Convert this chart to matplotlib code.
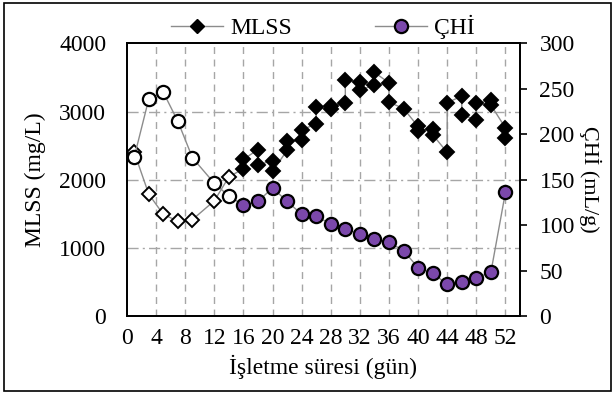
import matplotlib.pyplot as plt
from matplotlib.lines import Line2D
from matplotlib.patches import Rectangle

plt.rcParams['font.family'] = ['Liberation Serif', 'DejaVu Serif']

# MLSS (mg/L), in plotting order (two readings on most days)
mlss_gun = [1, 3, 5, 7, 9, 12, 14,
            16, 16, 18, 18, 20, 20, 22, 22, 24, 24, 26, 26, 28, 28,
            30, 30, 32, 32, 34, 34, 36, 36, 38, 40, 40, 42, 42,
            44, 44, 46, 46, 48, 48, 50, 50, 52, 52]
mlss = [2400, 1785, 1490, 1390, 1415, 1690, 2040,
        2162, 2299, 2441, 2215, 2280, 2120, 2431, 2570, 2578, 2735,
        2813, 3059, 3034, 3078, 3132, 3460, 3435, 3313, 3387, 3573,
        3421, 3137, 3044, 2780, 2720, 2750, 2660,
        2400, 3130, 3225, 2950, 2880, 3120, 3166, 3095, 2760, 2615]
mlss_open = 7  # first readings drawn as open markers

# ÇHİ (mL/g)
chi_gun = [1, 3, 5, 7, 9, 12, 14, 16, 18, 20, 22, 24, 26, 28, 30,
           32, 34, 36, 38, 40, 42, 44, 46, 48, 50, 52]
chi = [175, 239, 246, 214, 174, 146, 132, 122, 126, 141, 126, 112, 110,
       101, 96, 90, 85, 81, 72, 53, 47, 35, 37, 42, 48, 136]
chi_open = 7

purple = '#7B48AB'
line_gray = '#8C8C8C'
grid_gray = '#A6A6A6'
fs = 17

fig = plt.figure(figsize=(6.15, 3.94), dpi=100)
ax = fig.add_axes([0.2065, 0.198, 0.639, 0.692])
ax2 = ax.twinx()

# MLSS
ax.plot(mlss_gun, mlss, color=line_gray, lw=1, zorder=3)
ax.plot(mlss_gun[:mlss_open], mlss[:mlss_open], ls='none', marker='D', ms=7.5,
        mfc='white', mec='black', mew=1.4, zorder=4)
ax.plot(mlss_gun[mlss_open:], mlss[mlss_open:], ls='none', marker='D', ms=7.5,
        mfc='black', mec='black', mew=1.4, zorder=4)

# ÇHİ
ax2.plot(chi_gun, chi, color=line_gray, lw=1, zorder=3)
ax2.plot(chi_gun[:chi_open], chi[:chi_open], ls='none', marker='o', ms=9.5,
         mfc='white', mec='black', mew=1.6, zorder=4)
ax2.plot(chi_gun[chi_open:], chi[chi_open:], ls='none', marker='o', ms=9.5,
         mfc=purple, mec='black', mew=1.6, zorder=4)

ax.set_xlim(0, 54)
ax.set_ylim(0, 4000)
ax2.set_ylim(0, 300)
ax.set_xticks(range(0, 53, 4))
ax.set_yticks(range(0, 4001, 1000))
ax2.set_yticks(range(0, 301, 50))

# grid: dashed verticals, dash-dot horizontals
for x in range(4, 53, 4):
    ax.axvline(x, color=grid_gray, lw=1, ls=(0, (5, 4)), zorder=1)
for y in (1000, 2000, 3000):
    ax.axhline(y, color=grid_gray, lw=1, ls=(0, (8, 3, 1.5, 3)), zorder=1)

ax.tick_params(axis='x', length=0, labelsize=fs, pad=9)
ax.tick_params(axis='y', length=0, labelsize=fs, pad=15)
ax2.tick_params(axis='y', length=5, width=1.2, direction='out', labelsize=fs, pad=9)
for a in (ax, ax2):
    for s in a.spines.values():
        s.set_linewidth(1.3)

ax.set_xlabel('İşletme süresi (gün)', fontsize=fs, va='center')
ax.xaxis.set_label_coords(0.5, -0.185)
ax.set_ylabel('MLSS (mg/L)', fontsize=fs, va='center')
ax.yaxis.set_label_coords(-0.232, 0.5)
ax2.set_ylabel('ÇHİ (mL/g)', fontsize=16, rotation=-90, va='center')
ax2.yaxis.set_label_coords(1.178, 0.5)

handles = [
    Line2D([], [], color=line_gray, lw=1, marker='D', ms=7.5, mfc='black', mec='black'),
    Line2D([], [], color=line_gray, lw=1, marker='o', ms=9.5, mfc=purple, mec='black', mew=1.6),
]
fig.legend(handles, ['MLSS', 'ÇHİ'], loc='center', bbox_to_anchor=(0.525, 0.932),
           ncol=2, frameon=False, fontsize=fs, handlelength=2.2,
           columnspacing=3.5, handletextpad=0.3)

fig.patches.append(Rectangle((0.006, 0.008), 0.988, 0.985, transform=fig.transFigure,
                             fill=False, edgecolor='black', lw=1.2))

fig.savefig('out.png', dpi=100)
